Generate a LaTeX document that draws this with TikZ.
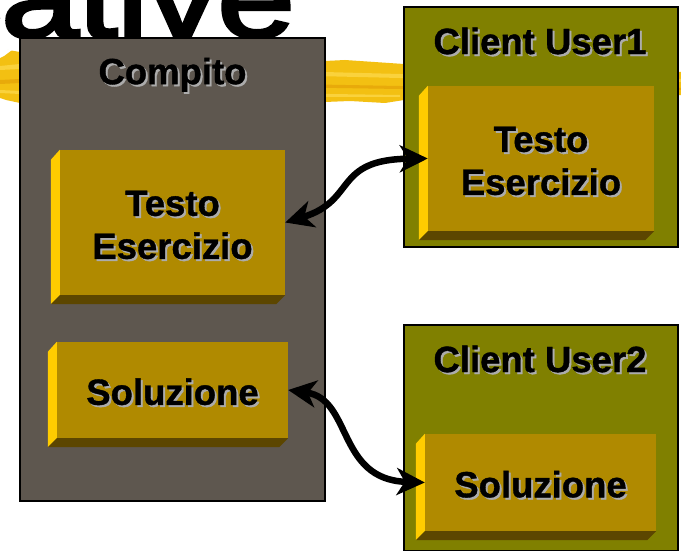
\documentclass[tikz,border=0pt]{standalone}
\usepackage{fontspec}
\setmainfont{Liberation Sans}[BoldFeatures={FakeBold=1}]
\newfontfamily\headingfont{Liberation Sans}[UprightFeatures={FakeBold=3}, BoldFeatures={FakeBold=3}]
\usetikzlibrary{arrows.meta}

\definecolor{compitobg}{RGB}{94,87,79}
\definecolor{clientbg}{RGB}{128,128,0}
\definecolor{slabfront}{RGB}{176,138,0}
\definecolor{slabside}{RGB}{255,204,0}
\definecolor{slabbottom}{RGB}{92,70,0}
\definecolor{textshade}{RGB}{172,172,172}
\definecolor{brushA}{RGB}{243,192,18}
\definecolor{brushB}{RGB}{250,210,60}
\definecolor{brushC}{RGB}{232,170,10}

% black lettering with a soft grey drop shadow
\newcommand{\shd}[1]{\makebox[0pt][l]{\hspace{2pt}\raisebox{-2pt}{\textcolor{textshade}{#1}}}#1}
% invisible strut that sets the first line a little lower in its box
\newcommand{\lowerline}{\rule{0pt}{32pt}}

% bevel faces (light left side, dark bottom) of a slab node
\newcommand{\slabsides}[1]{%
  \fill[slabside] (#1.north west) -- ++(-9,10) -- ([shift={(-9,9)}]#1.south west) -- (#1.south west) -- cycle;
  \fill[slabbottom] ([shift={(-9,9)}]#1.south west) -- ([shift={(-9,9)}]#1.south east) -- (#1.south east) -- (#1.south west) -- cycle;
}

\tikzset{
  panel/.style={draw=black, line width=2pt, inner sep=0pt},
  slab/.style={fill=slabfront, inner sep=0pt, align=center,
    font=\bfseries\fontsize{36.5}{43}\selectfont},
  paneltitle/.style={inner sep=0pt, font=\bfseries\fontsize{36.5}{43}\selectfont},
  link/.style={line width=6.5pt, {Stealth[length=28pt,width=27pt,inset=8pt]}-{Stealth[length=28pt,width=27pt,inset=8pt]}},
}

\begin{document}
\begin{tikzpicture}[x=1pt,y=-1pt]
\useasboundingbox (0,0) rectangle (681,551);
\clip (0,0) rectangle (681,551);
\fill[white] (0,0) rectangle (681,551);

% yellow brush stroke behind the panels
\fill[brushA] (0,56) -- (8,50) -- (20,52) -- (325,61) -- (345,60) -- (404,64)
  -- (681,72) -- (681,95) -- (404,100) -- (385,103) -- (350,101) -- (325,102)
  -- (20,103) -- (6,100) -- (0,98) -- cycle;
\fill[brushB] (0,66) -- (20,64) -- (400,74) -- (681,79) -- (681,82) -- (400,78) -- (20,69) -- (0,70) -- cycle;
\fill[brushC] (0,80) -- (20,79) -- (400,86) -- (681,88) -- (681,90) -- (400,89) -- (20,83) -- (0,84) -- cycle;
\fill[brushB] (0,90) -- (20,91) -- (330,94) -- (400,95) -- (400,97) -- (330,97) -- (20,94) -- (0,93) -- cycle;
\fill[white] (0,50) -- (12,50) -- (4,56) -- (0,58) -- cycle;

% large heading fragment at the top
\node[anchor=base east, inner sep=0pt, xscale=1.24,
  font=\headingfont\fontsize{112}{112}\selectfont] (heading) at (295,37) {cative};

% server-side panel
\node[panel, fill=compitobg, minimum width=305pt, minimum height=463pt] (compito) at (172.5,269.5) {};
\node[paneltitle] (compitotitle) at (172.5,73) {\lowerline\shd{Compito}};
\node[slab, minimum width=225pt, minimum height=145pt] (testoA) at (172.5,222.5) {\lowerline\shd{Testo}\\\shd{Esercizio}};
\slabsides{testoA}
\node[slab, minimum width=231pt, minimum height=96pt] (soluzA) at (172.5,390) {\lowerline\shd{Soluzione}};
\slabsides{soluzA}

% client panels
\node[panel, fill=clientbg, minimum width=274pt, minimum height=240pt] (client1) at (541,127) {};
\node[paneltitle] (client1title) at (540,42) {\shd{Client User1}};
\node[slab, minimum width=226pt, minimum height=145pt] (testoB) at (541,158.5) {\lowerline\shd{Testo}\\\shd{Esercizio}};
\slabsides{testoB}

\node[panel, fill=clientbg, minimum width=274pt, minimum height=226pt] (client2) at (541,438) {};
\node[paneltitle] (client2title) at (540,360) {\shd{Client User2}};
\node[slab, minimum width=231pt, minimum height=97pt] (soluzB) at (540.5,482.5) {\lowerline\shd{Soluzione}};
\slabsides{soluzB}

% two-way exchanges
\draw[link] (testoA.east) .. controls +(72,-22) and +(-95,1) .. (testoB.west);
\draw[link] (soluzA.east) .. controls +(64,9) and +(-88,-3) .. (soluzB.west);
\end{tikzpicture}
\end{document}
